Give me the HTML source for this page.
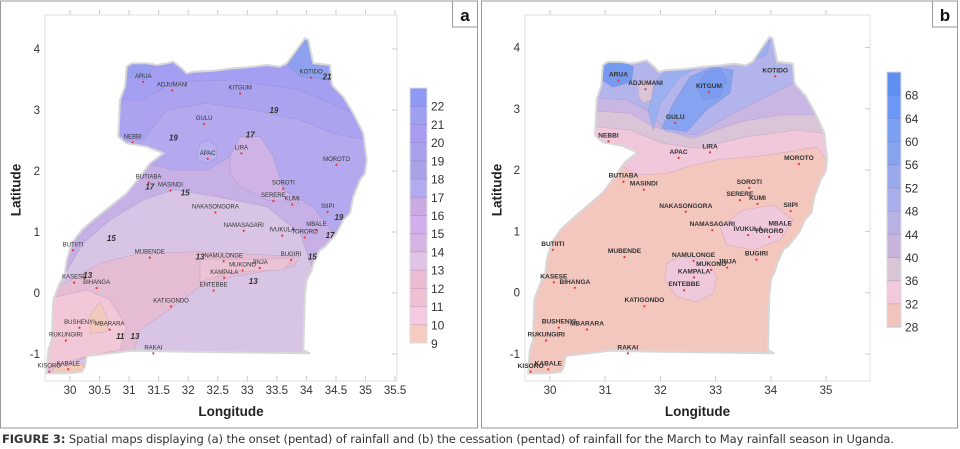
<!DOCTYPE html>
<html><head><meta charset="utf-8">
<style>
html,body{margin:0;padding:0;background:#fff;width:960px;height:449px;overflow:hidden;font-family:"Liberation Sans",sans-serif}
#cap{position:absolute;left:2px;top:432px;font-size:11.5px;color:#333;font-family:"DejaVu Sans","Liberation Sans",sans-serif;letter-spacing:-0.1px}
</style></head>
<body>
<svg id="fig" width="960" height="430" xmlns="http://www.w3.org/2000/svg" style="position:absolute;left:0;top:0"></svg>
<div id="cap"><b>FIGURE 3:</b> Spatial maps displaying (a) the onset (pentad) of rainfall and (b) the cessation (pentad) of rainfall for the March to May rainfall season in Uganda.</div>
<script>
// ---- data ----
const stationNames = ["ARUA","ADJUMANI","KITGUM","KOTIDO","GULU","NEBBI","APAC","LIRA","MOROTO","BUTIABA","MASINDI","SOROTI","SERERE","KUMI","SIIPI","NAKASONGORA","NAMASAGARI","MBALE","IVUKULA","TORORO","BUTIITI","MUBENDE","BUGIRI","NAMULONGE","MUKONO","JINJA","KAMPALA","KASESE","BIHANGA","ENTEBBE","KATIGONDO","BUSHENYI","MBARARA","RUKUNGIRI","RAKAI","KABALE","KISORO"];
const stationLon = [31.24,31.73,32.88,34.08,32.27,31.06,32.33,32.90,34.51,31.33,31.70,33.61,33.44,33.76,34.36,32.46,32.94,34.17,33.59,33.97,30.05,31.35,33.74,32.60,32.92,33.21,32.61,30.07,30.45,32.43,31.71,30.16,30.67,29.93,31.41,29.97,29.65];
const stationLat = [3.46,3.32,3.27,3.53,2.77,2.47,2.20,2.29,2.10,1.81,1.68,1.71,1.51,1.45,1.33,1.32,1.02,1.03,0.94,0.91,0.70,0.58,0.54,0.52,0.37,0.41,0.25,0.17,0.08,0.04,-0.22,-0.57,-0.60,-0.78,-0.99,-1.25,-1.29];
const cbLabelsA = [22,21,20,19,18,17,16,15,14,13,12,11,10,9];
const cbColorsA = ["#8f98f3","#9ba0f1","#a79cf2","#a8a0ea","#a9a2e9","#b3abf1","#c9aae1","#d3aeed","#d4b4e3","#dfc4e6","#ebbcd2","#efbfd4","#f6c9de","#f6cbc0"];
const cbLabelsB = [68,64,60,56,52,48,44,40,36,32,28];
const cbColorsB = ["#5f8ff0","#6b98f4","#7aa0f2","#86a3ee","#9aa9ec","#a9afea","#b8b2e4","#c6b4dd","#d8c6d6","#f1c8dc","#f3c4bb"];
const lonTicksA = [30,30.5,31,31.5,32,32.5,33,33.5,34,34.5,35,35.5];
const lonTicksB = [30,31,32,33,34,35];
const latTicks = [-1,0,1,2,3,4];

const NS="http://www.w3.org/2000/svg";
const svg=document.getElementById('fig');
function el(tag,attrs,parent){const e=document.createElementNS(NS,tag);for(const k in attrs)e.setAttribute(k,attrs[k]);(parent||svg).appendChild(e);return e;}
const fA=p=>[30+(p[0]/3-70)/59.1,(293-p[1]/3)/61];
const fB=p=>[30+(p[0]/3-70)/55.2,(292.7-p[1]/3)/61.3];
const outlinePx=[[380,200],[395,190],[440,190],[470,195],[500,190],[520,185],[545,205],[560,220],[580,215],[640,212],[700,205],[760,200],[800,195],[840,200],[860,190],[915,115],[925,120],[940,190],[990,195],[995,250],[1000,260],[1030,290],[1060,340],[1090,400],[1100,480],[1095,520],[1080,540],[1060,590],[1050,640],[1030,660],[1010,700],[975,740],[960,750],[940,790],[935,810],[920,840],[915,880],[910,1050],[930,1060],[560,1055],[400,1052],[260,1068],[255,1100],[245,1115],[200,1120],[140,1120],[145,1050],[155,1020],[160,900],[175,860],[195,820],[200,780],[215,730],[245,690],[280,660],[330,620],[380,580],[420,530],[450,490],[490,460],[440,440],[380,430],[355,410],[360,300],[375,260]];
const outline=outlinePx.map(fA);
const regionsA=[
 {c:"#c6b0e6",p:[[140,900],[150,860],[190,760],[300,640],[420,520],[490,460],[1100,470],[1100,520],[1040,660],[960,780],[935,800],[900,700],[800,620],[650,590],[520,570],[430,600],[330,660],[250,730],[190,830]]},
 {c:"#cfb3e6",p:[[690,470],[720,400],[780,400],[830,470],[860,570],[900,610],[800,600],[720,560],[690,520]]},
 {c:"#b4a9ee",p:[[340,150],[1100,150],[1100,620],[1050,640],[1000,700],[940,620],[850,570],[820,470],[780,410],[720,410],[690,470],[620,510],[520,510],[440,490],[340,470]]},
 {c:"#aba3f0",p:[[340,150],[1100,150],[1100,420],[1000,400],[900,360],[760,330],[620,310],[500,330],[430,420],[340,420]]},
 {c:"#b9b0f0",p:[[590,460],[600,430],[625,420],[650,440],[650,475],[620,490],[595,480]]},
 {c:"#a59ff3",p:[[340,150],[1100,150],[1100,340],[1060,340],[900,270],[700,240],[520,245],[430,300],[340,300]]},
 {c:"#8fa0ef",p:[[860,190],[915,110],[945,110],[995,195],[995,240],[900,230]]},
 {c:"#9aa0f0",p:[[375,190],[440,185],[460,200],[440,240],[380,230]]},
 {c:"#e4bdd4",p:[[130,1130],[130,880],[175,860],[300,790],[420,760],[600,755],[900,770],[880,800],[700,830],[600,860],[520,920],[420,990],[400,1060],[260,1070]]},
 {c:"#ecc3d4",p:[[600,780],[880,775],[850,810],[700,815],[600,845]]},
 {c:"#f2c8d8",p:[[130,1130],[130,900],[260,870],[330,900],[380,980],[360,1050],[260,1068],[150,1100]]},
 {c:"#f3c9bc",p:[[270,945],[300,905],[325,960],[320,995],[270,1000]]},
 {c:"#f3c9bc",p:[[160,1100],[250,1090],[250,1120],[160,1120]]}
].map(r=>({c:r.c,p:r.p.map(fA)}));
const regionsB=[
 {c:"#f0c7db",p:[[300,100],[1100,100],[1100,480],[1040,480],[1010,440],[930,455],[820,470],[720,478],[640,495],[560,520],[470,525],[430,500],[400,460],[300,430]]},
 {c:"#dac5d8",p:[[300,100],[1100,100],[1100,400],[1030,400],[950,390],[800,410],[650,445],[550,430],[450,390],[300,375]]},
 {c:"#c9b6e3",p:[[300,100],[1100,100],[1100,350],[1000,345],[900,345],[780,365],[640,415],[520,380],[450,340],[300,330]]},
 {c:"#b3b4ec",p:[[300,100],[1100,100],[1100,240],[940,250],[880,280],[760,340],[650,405],[560,395],[500,330],[440,300],[300,290]]},
 {c:"#dcc4d6",p:[[475,255],[500,235],[520,255],[515,300],[490,310],[475,290]]},
 {c:"#9bb0f0",p:[[520,390],[540,310],[600,230],[680,190],[780,190],[860,165],[870,120],[720,140],[600,180],[530,240],[505,330]]},
 {c:"#85a3f0",p:[[545,385],[580,310],[630,230],[700,200],[760,210],[750,280],[680,330],[620,395]]},
 {c:"#7b9cf0",p:[[650,260],[680,215],[720,205],[740,240],[720,290],[670,300]]},
 {c:"#759aef",p:[[370,195],[420,180],[460,200],[455,245],[400,262],[365,240]]},
 {c:"#efc8dc",p:[[560,790],[600,770],[680,780],[710,830],[700,880],[650,905],[590,890],[555,840]]},
 {c:"#efc8dc",p:[[720,680],[790,630],[880,615],[940,660],[900,720],[820,750],[740,735]]}
].map(r=>({c:r.c,p:r.p.map(fB)}));

function drawPanel(P){
 const g=el('g',{});
 
 
 const frame=el('rect',{x:P.fx,y:1,width:P.fw,height:427,fill:'#fff',stroke:'#999','stroke-width':1},g);
 
 
 const box=el('rect',{x:P.bx,y:15,width:P.bw,height:366,fill:'#fff',stroke:'#e2e2e2','stroke-width':1},g);
 
 
 const X=lon=>P.x0+(lon-30)*P.kx, Y=lat=>P.y0-lat*P.ky;
 const pth=pts=>'M'+pts.map(p=>X(p[0]).toFixed(1)+','+Y(p[1]).toFixed(1)).join('L')+'Z';
 const cp=el('clipPath',{id:'clip'+P.name},g);
 el('path',{d:pth(outline)},cp);
 const mg=el('g',{'clip-path':'url(#clip'+P.name+')'},g);
 
 
 el('path',{d:pth(outline),fill:P.base},mg);
 P.regions.forEach(r=>{
  const rp=el('path',{d:pth(r.p),fill:r.c,stroke:'rgba(120,100,140,0.25)','stroke-width':0.6},mg);
  
  
 });
 const ol=el('path',{d:pth(outline),fill:'none',stroke:'#d8d8d8','stroke-width':2},g);
 
 
 P.lonTicks.forEach(t=>{
  el('line',{x1:X(t),x2:X(t),y1:15,y2:10,stroke:'#ccc'},g);
  el('line',{x1:X(t),x2:X(t),y1:381,y2:376,stroke:'#ccc'},g);
  const tx=el('text',{x:X(t),y:394,'text-anchor':'middle','font-size':11.5,fill:'#333'},g);
  tx.textContent=t;
  
  
 });
 latTicks.forEach(t=>{
  el('line',{x1:P.bx+P.bw,x2:P.bx+P.bw-5,y1:Y(t),y2:Y(t),stroke:'#ccc'},g);
  const tx=el('text',{x:P.bx-5,y:Y(t)+4,'text-anchor':'end','font-size':11.5,fill:'#333'},g);
  tx.textContent=t;
  
  
 });
 const xt=el('text',{x:P.bx+P.bw/2+(P.name==='a'?10:0),y:416,'text-anchor':'middle','font-size':13.5,'font-weight':'bold',fill:'#222'},g);
 xt.textContent='Longitude';
 
 
 const yt=el('text',{x:0,y:0,'text-anchor':'middle','font-size':13.5,'font-weight':'bold',fill:'#222',transform:'translate('+(P.fx+20)+',190) rotate(-90)'},g);
 yt.textContent='Latitude';
 
 
 stationNames.forEach((n,i)=>{
  const d=el('circle',{cx:X(stationLon[i]),cy:Y(stationLat[i]),r:1.1,fill:'#e33'},g);
  
  
  const t=el('text',{x:X(stationLon[i]),y:Y(stationLat[i])-4,'text-anchor':'middle','font-size':P.fs,fill:'#333','font-weight':P.fw2},g);
  t.textContent=n;
  
  
 });
 const n=P.cbColors.length, bh=(P.cbB-P.cbT)/n;
 P.cbColors.forEach((c,i)=>{
  const r=el('rect',{x:P.cbX,y:P.cbT+i*bh,width:P.cbW,height:bh+0.3,fill:c},g);
  
  
 });
 el('rect',{x:P.cbX,y:P.cbT,width:P.cbW,height:P.cbB-P.cbT,fill:'none',stroke:'#ddd'},g);
 P.cbLabels.forEach((v,i)=>{
  const y=P.cbT+(i+1)*bh;
  el('line',{x1:P.cbX,x2:P.cbX+P.cbW,y1:y,y2:y,stroke:'rgba(120,100,150,0.25)'},g);
  const t=el('text',{x:P.cbX+P.cbW+4,y:y+4.5,'font-size':12,fill:'#333'},g);
  t.textContent=v;
  
  
 });
 const lb=el('rect',{x:P.fx+P.fw-25,y:1,width:25,height:26,fill:'#fff',stroke:'#999'},g);
 
 
 const lt=el('text',{x:P.fx+P.fw-12.5,y:21,'text-anchor':'middle','font-size':17,'font-weight':'bold',fill:'#111'},g);
 lt.textContent=P.name;
 
 
 (P.clabels||[]).forEach(c=>{
  const t=el('text',{x:X(c[1]),y:Y(c[2]),'text-anchor':'middle','font-size':8,'font-style':'italic','font-weight':'bold',fill:'#333'},g);
  t.textContent=c[0];
  
  
 });
}
drawPanel({name:'a',fx:0.5,fw:477,bx:45,bw:352,x0:70,kx:59.1,y0:293,ky:61,base:'#d8c5e6',regions:regionsA,lonTicks:lonTicksA,fs:6,fw2:'normal',cbX:410,cbW:17,cbT:88,cbB:343,cbColors:cbColorsA,cbLabels:cbLabelsA.slice(0,13),
 clabels:[["19",33.45,2.95],["19",31.75,2.5],["17",33.05,2.55],["15",31.95,1.6],["15",30.7,0.85],["13",32.2,0.55],["13",33.1,0.15],["13",30.3,0.25],["11",30.85,-0.75],["13",31.1,-0.75],["17",34.4,0.9],["19",34.55,1.2],["21",34.35,3.5],["17",31.35,1.7],["15",34.1,0.55]]});
(function(){const t=el('text',{x:431,y:348,'font-size':12,fill:'#333'});t.textContent='9';

})();
drawPanel({name:'b',fx:481.5,fw:476,bx:525,bw:345,x0:550,kx:55.2,y0:292.7,ky:61.3,base:'#f3c6be',regions:regionsB,lonTicks:lonTicksB,fs:6.6,fw2:'bold',cbX:887,cbW:14,cbT:72,cbB:327,cbColors:cbColorsB,cbLabels:cbLabelsB});
</script>
</body></html>
